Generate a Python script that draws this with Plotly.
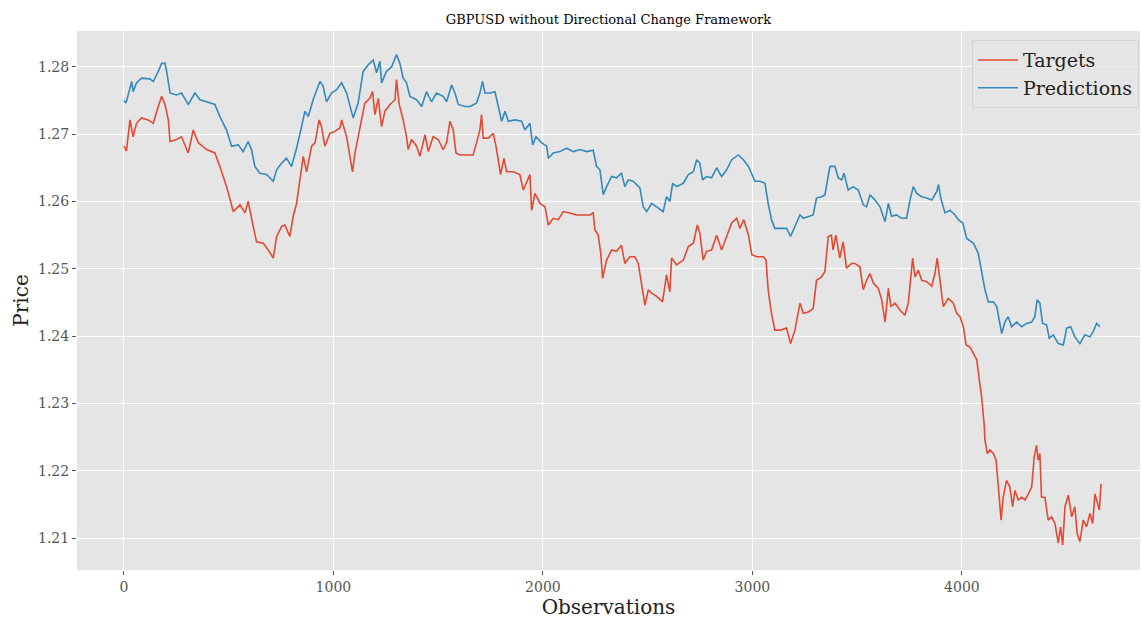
import plotly.graph_objects as go

title = "GBPUSD without Directional Change Framework"
x_label = "Observations"
y_label = "Price"

pred_obs = [0, 10, 37, 44, 60, 84, 124, 140, 164, 180, 196, 204, 220, 251, 275, 307, 339, 363, 395, 434,
            458, 490, 514, 546, 569, 593, 609, 625, 649, 681, 713, 729, 753, 776, 800, 824, 848, 864, 880, 903,
            936, 951, 967, 991, 1015, 1039, 1063, 1079, 1094, 1118, 1142, 1166, 1190, 1206, 1222, 1230, 1253, 1278, 1301, 1317,
            1333, 1349, 1365, 1397, 1421, 1444, 1468, 1492, 1524, 1540, 1564, 1580, 1596, 1628, 1652, 1683, 1699, 1712, 1723, 1747,
            1771, 1787, 1803, 1819, 1835, 1866, 1898, 1914, 1938, 1951, 1967, 1994, 2018, 2026, 2049, 2081, 2113, 2145, 2177, 2209,
            2240, 2256, 2272, 2288, 2304, 2328, 2351, 2375, 2391, 2407, 2431, 2463, 2479, 2495, 2519, 2543, 2574, 2590, 2606, 2619,
            2638, 2670, 2694, 2718, 2734, 2749, 2762, 2781, 2805, 2829, 2853, 2877, 2901, 2933, 2957, 2981, 2997, 3012, 3036, 3060,
            3075, 3091, 3107, 3131, 3163, 3182, 3203, 3227, 3243, 3267, 3290, 3306, 3330, 3346, 3362, 3370, 3394, 3410, 3426, 3437,
            3457, 3481, 3505, 3529, 3545, 3561, 3585, 3609, 3633, 3649, 3664, 3688, 3712, 3736, 3752, 3768, 3784, 3808, 3832, 3856,
            3880, 3888, 3899, 3919, 3943, 3967, 3983, 4004, 4023, 4055, 4078, 4094, 4110, 4126, 4150, 4166, 4178, 4190, 4205, 4221,
            4237, 4261, 4285, 4309, 4333, 4348, 4359, 4372, 4385, 4404, 4417, 4436, 4460, 4484, 4500, 4519, 4539, 4563, 4587, 4611,
            4627, 4643, 4659]
pred_val = [1.2750, 1.2746, 1.2778, 1.2763, 1.2776, 1.2783, 1.2782, 1.2778, 1.2793, 1.2805, 1.2805, 1.2793, 1.2761, 1.2758, 1.2761, 1.2744, 1.2761, 1.2751, 1.2748, 1.2744,
            1.2726, 1.2706, 1.2682, 1.2684, 1.2674, 1.2689, 1.2677, 1.2652, 1.2642, 1.2640, 1.2630, 1.2647, 1.2657, 1.2664, 1.2652, 1.2679, 1.2711, 1.2734, 1.2726, 1.2751,
            1.2778, 1.2771, 1.2748, 1.2761, 1.2766, 1.2776, 1.2761, 1.2741, 1.2724, 1.2746, 1.2793, 1.2803, 1.2810, 1.2791, 1.2808, 1.2776, 1.2793, 1.2800, 1.2818, 1.2805,
            1.2783, 1.2776, 1.2756, 1.2751, 1.2741, 1.2763, 1.2748, 1.2761, 1.2756, 1.2748, 1.2773, 1.2761, 1.2744, 1.2741, 1.2741, 1.2746, 1.2761, 1.2778, 1.2761, 1.2761,
            1.2763, 1.2741, 1.2719, 1.2734, 1.2719, 1.2721, 1.2719, 1.2706, 1.2716, 1.2684, 1.2696, 1.2687, 1.2682, 1.2664, 1.2672, 1.2674, 1.2679, 1.2674, 1.2677, 1.2674,
            1.2676, 1.2652, 1.2647, 1.2610, 1.2622, 1.2637, 1.2635, 1.2642, 1.2622, 1.2632, 1.2630, 1.2620, 1.2592, 1.2585, 1.2597, 1.2592, 1.2585, 1.2607, 1.2600, 1.2627,
            1.2622, 1.2627, 1.2640, 1.2644, 1.2662, 1.2657, 1.2632, 1.2637, 1.2635, 1.2650, 1.2637, 1.2647, 1.2662, 1.2669, 1.2662, 1.2652, 1.2640, 1.2630, 1.2630, 1.2627,
            1.2597, 1.2573, 1.2560, 1.2560, 1.2560, 1.2548, 1.2563, 1.2580, 1.2575, 1.2578, 1.2580, 1.2605, 1.2607, 1.2610, 1.2640, 1.2652, 1.2652, 1.2635, 1.2632, 1.2642,
            1.2617, 1.2622, 1.2617, 1.2595, 1.2592, 1.2610, 1.2602, 1.2592, 1.2570, 1.2597, 1.2578, 1.2580, 1.2575, 1.2575, 1.2602, 1.2622, 1.2612, 1.2607, 1.2605, 1.2602,
            1.2615, 1.2625, 1.2605, 1.2583, 1.2587, 1.2580, 1.2573, 1.2568, 1.2545, 1.2538, 1.2523, 1.2498, 1.2469, 1.2451, 1.2451, 1.2444, 1.2424, 1.2404, 1.2421, 1.2429,
            1.2414, 1.2421, 1.2414, 1.2419, 1.2421, 1.2429, 1.2454, 1.2449, 1.2419, 1.2417, 1.2397, 1.2402, 1.2389, 1.2387, 1.2412, 1.2414, 1.2399, 1.2389, 1.2402, 1.2399,
            1.2407, 1.2419, 1.2414]

targ_obs = [0, 12, 29, 44, 60, 84, 116, 140, 164, 180, 196, 212, 220, 251, 275, 307, 331, 355, 395, 434,
            458, 490, 522, 554, 578, 593, 617, 633, 665, 689, 713, 729, 753, 768, 792, 808, 824, 840, 856, 872,
            896, 912, 932, 943, 959, 983, 1007, 1031, 1039, 1063, 1079, 1091, 1103, 1126, 1150, 1174, 1187, 1198, 1214, 1230,
            1246, 1270, 1294, 1301, 1314, 1333, 1349, 1357, 1373, 1397, 1413, 1437, 1453, 1476, 1500, 1524, 1540, 1556, 1572, 1585,
            1604, 1636, 1667, 1683, 1699, 1707, 1715, 1739, 1763, 1776, 1787, 1798, 1814, 1827, 1858, 1890, 1906, 1922, 1938, 1946,
            1962, 1986, 2010, 2026, 2049, 2073, 2097, 2129, 2160, 2192, 2224, 2240, 2248, 2264, 2276, 2285, 2304, 2328, 2351, 2375,
            2391, 2415, 2439, 2455, 2471, 2487, 2503, 2519, 2543, 2571, 2590, 2606, 2614, 2638, 2670, 2694, 2718, 2737, 2749, 2765,
            2781, 2805, 2829, 2853, 2877, 2901, 2925, 2940, 2959, 2981, 2997, 3020, 3052, 3065, 3075, 3091, 3107, 3131, 3163, 3182,
            3203, 3227, 3243, 3267, 3290, 3306, 3330, 3346, 3362, 3377, 3385, 3398, 3417, 3433, 3449, 3473, 3489, 3513, 3529, 3545,
            3561, 3577, 3601, 3617, 3633, 3649, 3661, 3681, 3704, 3728, 3744, 3755, 3765, 3776, 3792, 3808, 3832, 3856, 3871, 3882,
            3892, 3911, 3935, 3959, 3975, 3991, 4007, 4020, 4038, 4055, 4071, 4083, 4094, 4106, 4110, 4121, 4134, 4150, 4163, 4174,
            4187, 4197, 4213, 4229, 4242, 4253, 4269, 4285, 4301, 4317, 4333, 4345, 4356, 4364, 4372, 4380, 4396, 4412, 4428, 4444,
            4460, 4471, 4481, 4492, 4508, 4524, 4539, 4550, 4563, 4579, 4595, 4611, 4624, 4635, 4646, 4656, 4664]
targ_val = [1.2682, 1.2675, 1.2721, 1.2696, 1.2716, 1.2724, 1.2721, 1.2716, 1.2741, 1.2756, 1.2744, 1.2721, 1.2689, 1.2692, 1.2696, 1.2672, 1.2706, 1.2687, 1.2677, 1.2672,
            1.2652, 1.2622, 1.2585, 1.2595, 1.2583, 1.2600, 1.2563, 1.2540, 1.2538, 1.2528, 1.2516, 1.2548, 1.2563, 1.2565, 1.2548, 1.2578, 1.2597, 1.2632, 1.2667, 1.2644,
            1.2682, 1.2687, 1.2721, 1.2711, 1.2682, 1.2701, 1.2704, 1.2709, 1.2721, 1.2696, 1.2667, 1.2644, 1.2672, 1.2711, 1.2746, 1.2753, 1.2763, 1.2729, 1.2753, 1.2711,
            1.2734, 1.2744, 1.2751, 1.2781, 1.2744, 1.2721, 1.2696, 1.2677, 1.2692, 1.2682, 1.2667, 1.2699, 1.2674, 1.2696, 1.2692, 1.2677, 1.2687, 1.2719, 1.2706, 1.2672,
            1.2669, 1.2669, 1.2669, 1.2687, 1.2706, 1.2729, 1.2694, 1.2694, 1.2701, 1.2682, 1.2657, 1.2640, 1.2664, 1.2644, 1.2644, 1.2640, 1.2617, 1.2630, 1.2640, 1.2587,
            1.2612, 1.2597, 1.2592, 1.2565, 1.2575, 1.2573, 1.2585, 1.2583, 1.2580, 1.2580, 1.2580, 1.2583, 1.2558, 1.2550, 1.2523, 1.2486, 1.2513, 1.2528, 1.2526, 1.2535,
            1.2508, 1.2518, 1.2518, 1.2508, 1.2479, 1.2446, 1.2469, 1.2464, 1.2459, 1.2451, 1.2491, 1.2466, 1.2516, 1.2506, 1.2513, 1.2533, 1.2538, 1.2565, 1.2553, 1.2513,
            1.2526, 1.2528, 1.2550, 1.2528, 1.2548, 1.2568, 1.2575, 1.2560, 1.2573, 1.2550, 1.2521, 1.2518, 1.2518, 1.2513, 1.2469, 1.2434, 1.2409, 1.2409, 1.2412, 1.2389,
            1.2409, 1.2449, 1.2434, 1.2436, 1.2441, 1.2483, 1.2488, 1.2496, 1.2548, 1.2550, 1.2528, 1.2550, 1.2516, 1.2540, 1.2501, 1.2508, 1.2508, 1.2503, 1.2469, 1.2483,
            1.2493, 1.2479, 1.2471, 1.2454, 1.2421, 1.2471, 1.2444, 1.2449, 1.2439, 1.2431, 1.2449, 1.2483, 1.2516, 1.2488, 1.2498, 1.2483, 1.2481, 1.2474, 1.2493, 1.2516,
            1.2488, 1.2444, 1.2456, 1.2449, 1.2434, 1.2429, 1.2414, 1.2387, 1.2384, 1.2375, 1.2365, 1.2335, 1.2310, 1.2270, 1.2246, 1.2226, 1.2231, 1.2226, 1.2216, 1.2176,
            1.2127, 1.2161, 1.2186, 1.2176, 1.2147, 1.2171, 1.2157, 1.2161, 1.2157, 1.2166, 1.2176, 1.2221, 1.2238, 1.2216, 1.2226, 1.2161, 1.2161, 1.2127, 1.2132, 1.2122,
            1.2093, 1.2117, 1.2090, 1.2147, 1.2164, 1.2132, 1.2147, 1.2107, 1.2095, 1.2127, 1.2117, 1.2137, 1.2122, 1.2166, 1.2152, 1.2142, 1.2181]

x_ticks = [0, 1000, 2000, 3000, 4000]
y_ticks = [1.21, 1.22, 1.23, 1.24, 1.25, 1.26, 1.27, 1.28]

FONT = "DejaVu Serif"

fig = go.Figure()
fig.add_trace(go.Scatter(x=targ_obs, y=targ_val, mode="lines", name="Targets",
                         line=dict(color="#E24A33", width=1.6)))
fig.add_trace(go.Scatter(x=pred_obs, y=pred_val, mode="lines", name="Predictions",
                         line=dict(color="#348ABD", width=1.6)))

fig.update_layout(
    width=1142, height=619,
    margin=dict(l=77, r=2, t=31, b=49, autoexpand=False),
    paper_bgcolor="white",
    plot_bgcolor="#E5E5E5",
    font=dict(family=FONT, color="#555555", size=14),
    title=dict(text=title, x=(77 + 1140) / 2 / 1142, xanchor="center", y=0.969, yanchor="middle",
               font=dict(family=FONT, size=13, color="black")),
    showlegend=True,
    legend=dict(x=0.999, y=0.983, xanchor="right", yanchor="top",
                bgcolor="rgba(229,229,229,0.8)", bordercolor="#D4D4D4", borderwidth=1,
                font=dict(family=FONT, size=19, color="#222222"), tracegroupgap=0,
                itemwidth=40),
)
fig.update_xaxes(
    range=[-224, 4850], tickvals=x_ticks, ticktext=[str(v) for v in x_ticks],
    showgrid=True, gridcolor="white", gridwidth=1, zeroline=False, automargin=False,
    ticks="outside", ticklen=4, tickcolor="#555555", showline=False,
    tickfont=dict(family=FONT, size=14, color="#555555"),
    title=dict(text=x_label, font=dict(family=FONT, size=20, color="#222222"), standoff=9),
)
fig.update_yaxes(
    range=[1.2053, 1.2853], tickvals=y_ticks, ticktext=["%.2f" % v for v in y_ticks],
    showgrid=True, gridcolor="white", gridwidth=1, zeroline=False, automargin=False,
    ticks="outside", ticklen=4, tickcolor="#555555", showline=False,
    tickfont=dict(family=FONT, size=14, color="#555555"),
    title=dict(text=y_label, font=dict(family=FONT, size=20, color="#222222"), standoff=4),
)

fig.write_html("out.html", config={"displayModeBar": False},
               post_script="document.body.style.margin='0';document.body.style.padding='0';")
